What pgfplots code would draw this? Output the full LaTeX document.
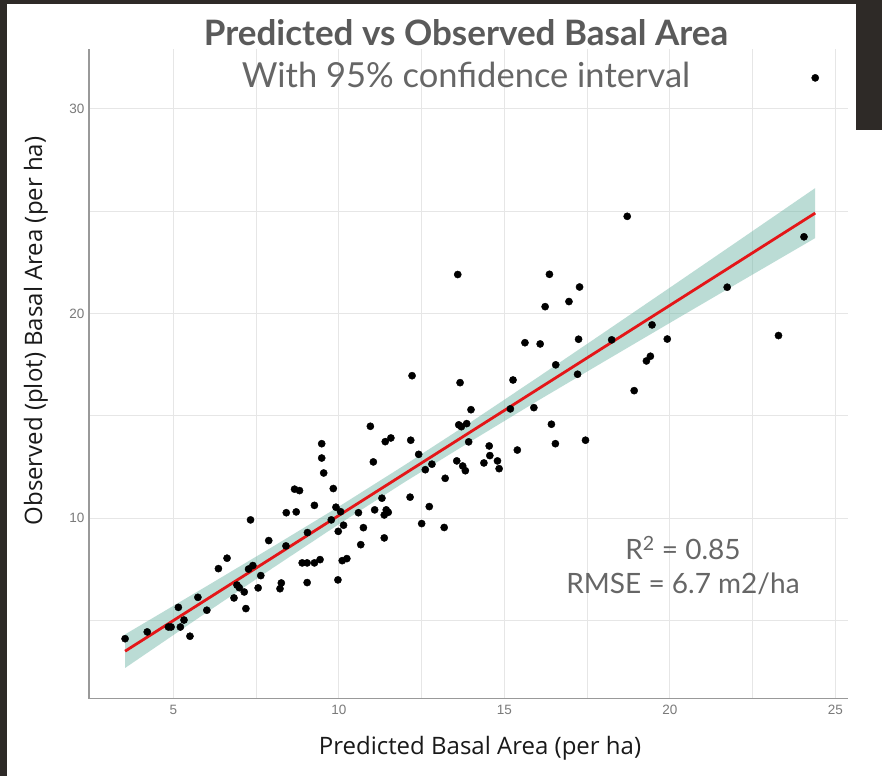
\documentclass[border=0pt]{standalone}
\usepackage{pgfplots}
\pgfplotsset{compat=1.18}
\usepackage{fontspec}
\setmainfont{Lato}
\newfontfamily\labelfont{Open Sans}
\newfontfamily\tickfont{Liberation Sans}

\definecolor{frame}{HTML}{2E2A27}
\definecolor{titlegray}{HTML}{5A5A5A}
\definecolor{subgray}{HTML}{666666}
\definecolor{gridgray}{HTML}{E6E6E6}
\definecolor{axisgray}{HTML}{999999}
\definecolor{tickgray}{HTML}{7A7A7A}
\definecolor{band}{RGB}{105,179,162}
\definecolor{fitred}{RGB}{228,22,24}

% observed vs predicted basal area, one row per plot
\pgfplotstableread{
x y
3.54 4.12
4.21 4.45
4.85 4.69
4.93 4.69
5.21 4.69
5.15 5.65
5.32 5.03
5.50 4.24
5.74 6.14
6.01 5.51
6.36 7.54
6.62 8.05
6.83 6.11
6.92 6.74
6.99 6.61
7.14 6.40
7.19 5.59
7.33 9.92
7.27 7.52
7.40 7.69
7.56 6.60
7.64 7.20
7.88 8.91
8.22 6.56
8.26 6.84
8.40 8.65
8.41 10.27
8.71 10.31
8.66 11.42
8.81 11.35
8.89 7.82
9.04 7.82
9.04 6.86
9.05 9.30
9.26 10.63
9.26 7.82
9.43 7.98
9.48 13.64
9.48 12.94
9.54 12.21
9.77 9.92
9.83 11.45
9.91 10.54
9.97 6.99
9.98 9.36
10.05 10.32
10.14 9.66
10.10 7.93
10.24 8.03
10.59 10.27
10.66 8.71
10.74 9.54
10.95 14.49
11.04 12.75
11.08 10.41
11.30 10.98
11.37 9.04
11.37 10.16
11.43 10.41
11.49 10.29
11.40 13.74
11.57 13.92
12.17 13.81
12.41 13.12
12.61 12.37
12.81 12.64
12.15 11.03
12.50 9.74
12.73 10.57
12.21 16.96
13.21 11.95
13.18 9.55
13.66 16.62
13.99 15.30
13.62 14.56
13.70 14.47
13.86 14.62
13.92 13.73
13.56 12.80
13.74 12.55
13.82 12.32
14.54 13.53
14.56 13.06
14.38 12.70
14.79 12.80
14.84 12.42
15.39 13.33
15.26 16.75
15.18 15.34
15.62 18.57
16.08 18.51
15.89 15.40
16.42 14.59
16.54 13.64
16.55 17.49
17.21 17.03
17.24 18.74
17.45 13.81
16.36 21.91
17.27 21.29
16.95 20.58
16.23 20.33
18.24 18.71
19.46 19.44
19.92 18.75
19.29 17.68
19.41 17.91
18.92 16.23
18.71 24.74
21.73 21.28
23.28 18.92
24.05 23.74
24.39 31.50
13.59 21.90
}\obs

% 95% confidence band of the fitted line, traced along the upper
% limit and back along the lower limit
\pgfplotstableread{
x y
3.54 4.33
6 6.68
8 8.61
10 10.57
12 12.61
14 14.71
16 16.87
18 19.06
20 21.26
22 23.47
24.39 26.12
24.39 23.68
22 21.43
20 19.54
18 17.64
16 15.73
14 13.77
12 11.78
10 9.71
8 7.57
6 5.40
3.54 2.69
}\ci

\begin{document}
\begin{tikzpicture}
\fill[frame] (0,0) rectangle (882bp,776bp);
\fill[white] (7bp,0) rectangle (882bp,772bp);
\fill[frame] (856bp,646bp) rectangle (882bp,776bp);

\begin{axis}[
  at={(89bp,77.3bp)}, anchor=south west,
  scale only axis, width=759bp, height=649.7bp,
  xmin=2.45, xmax=25.38, ymin=1.19, ymax=32.91,
  axis lines=left,
  axis line style={-, draw=axisgray, line width=1.2bp},
  xtick={5,10,15,20,25}, ytick={10,20,30},
  minor xtick={7.5,12.5,17.5,22.5}, minor ytick={5,15,25},
  grid=both,
  major grid style={draw=gridgray, line width=0.9bp},
  minor grid style={draw=gridgray, line width=0.8bp},
  major tick length=0pt, minor tick length=0pt,
  tick label style={font=\tickfont\fontsize{13.5bp}{15bp}\selectfont, text=tickgray},
  /pgf/number format/assume math mode=true,
  xticklabel style={yshift=-3bp},
  yticklabel style={xshift=-1bp},
]
\addplot[only marks, mark=*, mark size=3.6bp, black] table[x=x, y=y] {\obs};
\addplot[fill=band, fill opacity=0.45, draw=none] table[x=x, y=y] {\ci} -- cycle;
\addplot[fitred, line width=2.8bp] coordinates {(3.54,3.51) (24.39,24.90)};
\end{axis}

\node[text=titlegray, font=\bfseries\fontsize{35bp}{40bp}\selectfont] at (466bp,743bp) {Predicted vs Observed Basal Area};
\node[text=subgray, font=\fontsize{34.5bp}{40bp}\selectfont] at (466bp,701bp) {With 95\% confidence interval};
\node[text=black!90, font=\labelfont\fontsize{24bp}{28bp}\selectfont] at (480bp,28bp) {Predicted Basal Area (per ha)};
\node[text=black!90, font=\labelfont\fontsize{24bp}{28bp}\selectfont, rotate=90] at (36bp,445bp) {Observed (plot) Basal Area (per ha)};
\node[text=subgray, font=\fontsize{28bp}{32bp}\selectfont] at (683bp,228bp) {R\textsuperscript{2} = 0.85};
\node[text=subgray, font=\fontsize{28bp}{32bp}\selectfont] at (683bp,192bp) {RMSE = 6.7 m2/ha};
\end{tikzpicture}
\end{document}
